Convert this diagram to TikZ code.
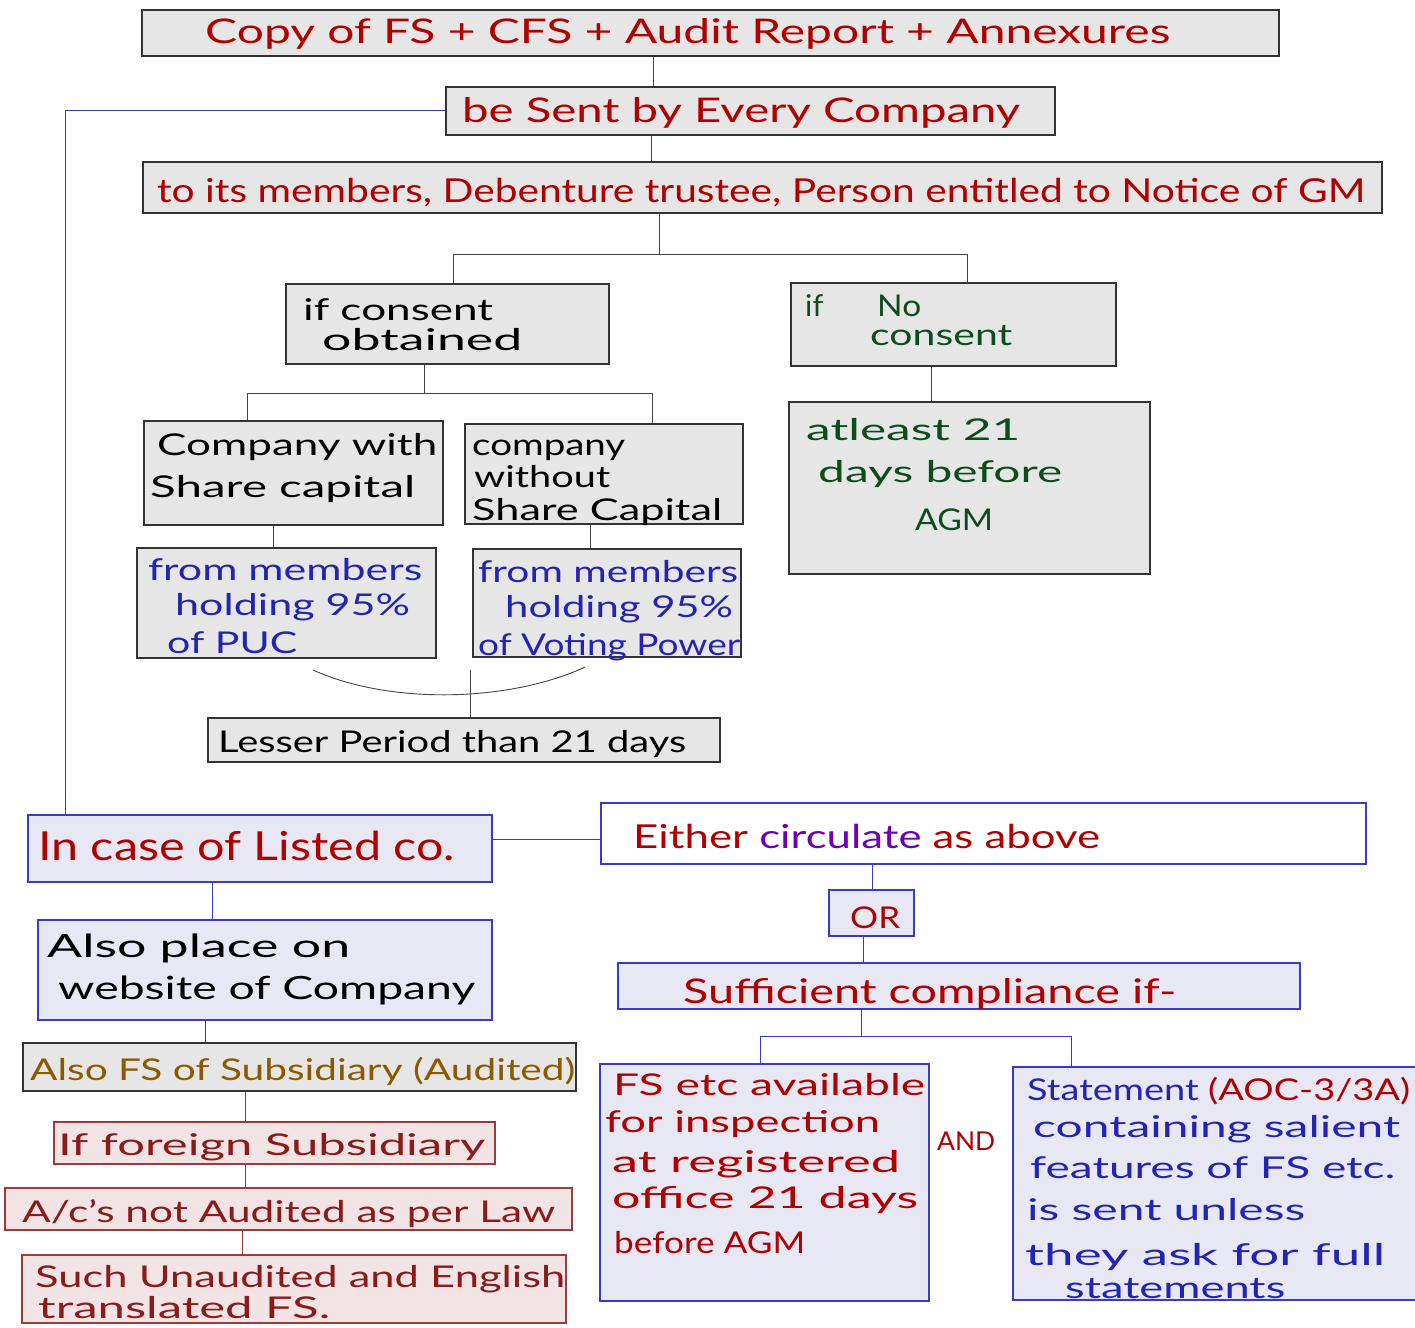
\documentclass[tikz,border=0pt]{standalone}
\usepackage{fontspec}
\setmainfont{Lato}
\usepackage{graphicx}
\newcommand\hw[2]{\resizebox{#1pt}{\height}{#2}}
\newcommand\bx[6]{\node[#2, minimum width={#5pt-#3pt}, minimum height={#6pt-#4pt}] (#1) at ({(#3+#5)/2},{(#4+#6)/2}) {};}
\definecolor{gfill}{HTML}{E6E6E6}
\definecolor{gbd}{HTML}{333333}
\definecolor{lav}{HTML}{E8E8F5}
\definecolor{bbd}{HTML}{3A3AC8}
\definecolor{pinkf}{HTML}{F2E4E4}
\definecolor{pbd}{HTML}{A03A3A}
\definecolor{tred}{HTML}{B00000}
\definecolor{tgreen}{HTML}{0D4D1D}
\definecolor{tblue}{HTML}{2424B4}
\definecolor{tbrown}{HTML}{8B5A00}
\definecolor{tpurple}{HTML}{7000B0}
\definecolor{tdred}{HTML}{8B1A1A}
\definecolor{lgray}{HTML}{444444}
\begin{document}
\begin{tikzpicture}[x=1pt,y=-1pt,
  gbox/.style={draw=gbd, fill=gfill, line width=1.3pt, inner sep=0pt},
  lbox/.style={draw=bbd, fill=lav, line width=1.2pt, inner sep=0pt},
  wbox/.style={draw=bbd, fill=white, line width=1.2pt, inner sep=0pt},
  pbox/.style={draw=pbd, fill=pinkf, line width=1.2pt, inner sep=0pt},
  txt/.style={inner sep=0pt, anchor=base west, font=\fontsize{#1}{#1}\selectfont},
  txt/.default=30,
  kline/.style={draw=lgray, line width=0.9pt},
  bline/.style={draw=bbd, line width=1pt},
  rline/.style={draw=pbd, line width=0.9pt}]
\useasboundingbox[fill=white] (0,0) rectangle (1415,1327);

% boxes
\bx{b1}{gbox}{142}{10}{1279}{56}
\bx{b2}{gbox}{446}{87}{1055}{135}
\bx{b3}{gbox}{143}{162}{1382}{213}
\bx{b4}{gbox}{286}{284}{609}{364}
\bx{b5}{gbox}{791}{283}{1116}{366}
\bx{b6}{gbox}{789}{402}{1150}{574}
\bx{b7}{gbox}{144}{421}{443}{525}
\bx{b8}{gbox}{465}{424}{743}{524}
\bx{b9}{gbox}{137}{548}{436}{658}
\bx{b10}{gbox}{473}{549}{741}{657}
\bx{b11}{gbox}{208}{718}{720}{762}
\bx{b12}{lbox}{28}{815}{492}{882}
\bx{b13}{wbox}{601}{803}{1366}{864}
\bx{b14}{lbox}{829}{890}{914}{936}
\bx{b15}{lbox}{618}{963}{1300}{1009}
\bx{b16}{lbox}{600}{1064}{929}{1301}
\bx{b17}{lbox}{1013}{1067}{1420}{1300}
\bx{b18}{lbox}{38}{920}{492}{1020}
\bx{b19}{gbox}{23}{1043}{576}{1091}
\bx{b20}{pbox}{54}{1122}{495}{1164}
\bx{b21}{pbox}{5}{1188}{572}{1230}
\bx{b22}{pbox}{22}{1255}{566}{1323}

% helper coordinates
\coordinate (x653) at (653,0);
\coordinate (x651) at (651,0);
\coordinate (j1) at (659,254);
\coordinate (j1l) at (453,254);
\coordinate (j1r) at (967,254);
\coordinate (x931) at (931,0);
\coordinate (j2) at (424,393);
\coordinate (j2l) at (247,393);
\coordinate (j2r) at (652,393);
\coordinate (x273) at (273,0);
\coordinate (x590) at (590,0);
\coordinate (a1) at (313,670);
\coordinate (a2) at (585,667);
\coordinate (a3) at (470,670);
\coordinate (k1) at (65,111);
\coordinate (y839) at (0,839);
\coordinate (x872) at (872,0);
\coordinate (x863) at (863,0);
\coordinate (j3) at (861,1036);
\coordinate (j3l) at (760,1036);
\coordinate (j3r) at (1071,1036);
\coordinate (x212) at (212,0);
\coordinate (x205) at (205,0);
\coordinate (x245) at (245,0);
\coordinate (x242) at (242,0);

% connectors
\draw[kline] (b1.south -| x653) -- (b2.north -| x653);
\draw[kline] (b2.south -| x651) -- (b3.north -| x651);
\draw[kline] (b3.south -| j1) -- (j1);
\draw[kline] (b4.north -| j1l) -- (j1l) -- (j1r) -- (b5.north -| j1r);
\draw[kline] (b5.south -| x931) -- (b6.north -| x931);
\draw[kline] (b4.south -| j2) -- (j2);
\draw[kline] (b7.north -| j2l) -- (j2l) -- (j2r) -- (b8.north -| j2r);
\draw[kline] (b7.south -| x273) -- (b9.north -| x273);
\draw[kline] (b8.south -| x590) -- (b10.north -| x590);
\draw[kline] (a1) .. controls (390,705) and (510,702) .. (a2);
\draw[kline] (a3) -- (b11.north -| a3);
\draw[bline] (b2.west) -- (k1) -- (b12.north -| k1);
\draw[bline] (b12.east |- y839) -- (b13.west |- y839);
\draw[bline] (b13.south -| x872) -- (b14.north -| x872);
\draw[bline] (b14.south -| x863) -- (b15.north -| x863);
\draw[bline] (b15.south -| j3) -- (j3);
\draw[bline] (b16.north -| j3l) -- (j3l) -- (j3r) -- (b17.north -| j3r);
\draw[bline] (b12.south -| x212) -- (b18.north -| x212);
\draw[kline] (b18.south -| x205) -- (b19.north -| x205);
\draw[rline] (b19.south -| x245) -- (b20.north -| x245);
\draw[rline] (b20.south -| x245) -- (b21.north -| x245);
\draw[rline] (b21.south -| x242) -- (b22.north -| x242);

% texts
\node[txt=34, text=tred] (t1) at (205,44) {\hw{965}{Copy of FS + CFS + Audit Report + Annexures}};
\node[txt=34, text=tred] (t2) at (462,122) {\hw{558}{be Sent by Every Company}};
\node[txt=33, text=tred] (t3) at (157,202) {\hw{1208}{to its members, Debenture trustee, Person entitled to Notice of GM}};

\node[txt=30, text=black] (t4a) at (303,320) {\hw{190}{if consent}};
\node[txt=30, text=black] (t4b) at (322,350) {\hw{200}{obtained}};

\node[txt=30, text=tgreen] (t5a) at (805,316) {\hw{18}{if}};
\node[txt=30, text=tgreen] (t5b) at (877,316) {\hw{44}{No}};
\node[txt=30, text=tgreen] (t5c) at (870,345) {\hw{142}{consent}};

\node[txt=30, text=tgreen] (t6a) at (806,440) {\hw{214}{atleast 21}};
\node[txt=30, text=tgreen] (t6b) at (818,482) {\hw{244}{days before}};
\node[txt=30, text=tgreen] (t6c) at (915,530) {\hw{78}{AGM}};

\node[txt=30, text=black] (t7a) at (157,455) {\hw{280}{Company with}};
\node[txt=30, text=black] (t7b) at (150,497) {\hw{265}{Share capital}};

\node[txt=30, text=black] (t8a) at (472,455) {\hw{153}{company}};
\node[txt=30, text=black] (t8b) at (474,487) {\hw{136}{without}};
\node[txt=30, text=black] (t8c) at (472,520) {\hw{250}{Share Capital}};

\node[txt=30, text=tblue] (t9a) at (148,580) {\hw{274}{from members}};
\node[txt=30, text=tblue] (t9b) at (175,615) {\hw{235}{holding 95\%}};
\node[txt=30, text=tblue] (t9c) at (167,653) {\hw{130}{of PUC}};

\node[txt=30, text=tblue] (t10a) at (478,582) {\hw{260}{from members}};
\node[txt=30, text=tblue] (t10b) at (505,617) {\hw{228}{holding 95\%}};
\node[txt=30, text=tblue] (t10c) at (478,655) {\hw{262}{of Voting Power}};

\node[txt=30, text=black] (t11) at (218,752) {\hw{468}{Lesser Period than 21 days}};

\node[txt=40, text=tred] (t12) at (38,860) {\hw{417}{In case of Listed co.}};
\node[txt=33, text=tred] (t13) at (633,848) {\hw{467}{Either {\color{tpurple}circulate} as above}};
\node[txt=30, text=tred] (t14) at (850,928) {\hw{50}{OR}};
\node[txt=34, text=tred] (t15) at (683,1003) {\hw{493}{Sufficient compliance if-}};

\node[txt=30, text=tred] (t16a) at (613,1095) {\hw{312}{FS etc available}};
\node[txt=30, text=tred] (t16b) at (605,1132) {\hw{275}{for inspection}};
\node[txt=30, text=tred] (t16c) at (612,1172) {\hw{288}{at registered}};
\node[txt=30, text=tred] (t16d) at (612,1208) {\hw{306}{office 21 days}};
\node[txt=30, text=tred] (t16e) at (614,1253) {\hw{191}{before AGM}};

\node[txt=26, text=tred] (t17) at (937,1150) {\hw{58}{AND}};

\node[txt=30, text=tblue] (t18a) at (1027,1100) {\hw{383}{Statement {\color{tred}(AOC-3/3A)}}};
\node[txt=30, text=tblue] (t18b) at (1033,1137) {\hw{367}{containing salient}};
\node[txt=30, text=tblue] (t18c) at (1030,1178) {\hw{365}{features of FS etc.}};
\node[txt=30, text=tblue] (t18d) at (1027,1220) {\hw{278}{is sent unless}};
\node[txt=30, text=tblue] (t18e) at (1025,1265) {\hw{360}{they ask for full}};
\node[txt=30, text=tblue] (t18f) at (1065,1298) {\hw{220}{statements}};

\node[txt=32, text=black] (t19a) at (47,957) {\hw{303}{Also place on}};
\node[txt=32, text=black] (t19b) at (58,999) {\hw{417}{website of Company}};

\node[txt=30, text=tbrown] (t20) at (30,1080) {\hw{545}{Also FS of Subsidiary (Audited)}};
\node[txt=30, text=tdred] (t21) at (58,1155) {\hw{427}{If foreign Subsidiary}};
\node[txt=30, text=tdred] (t22) at (22,1222) {\hw{533}{A/c's not Audited as per Law}};
\node[txt=30, text=tdred] (t23a) at (35,1287) {\hw{530}{Such Unaudited and English}};
\node[txt=30, text=tdred] (t23b) at (38,1318) {\hw{292}{translated FS.}};
\end{tikzpicture}
\end{document}
